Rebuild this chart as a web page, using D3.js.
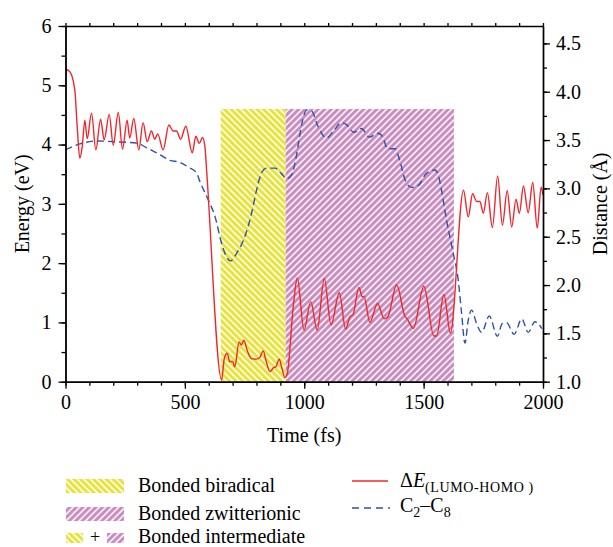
<!DOCTYPE html>
<html>
<head>
<meta charset="utf-8">
<script src="https://cdn.jsdelivr.net/npm/d3@7"></script>
<style>
  body { margin: 0; background: #fff; }
  svg { display: block; }
  svg text { font-family: "Liberation Serif", "DejaVu Serif", serif; }
</style>
</head>
<body>
<svg id="chart" width="613" height="547"></svg>
<script>
// LUMO-HOMO gap (eV) vs time (fs)
const gapTime = [0, 18, 39, 49, 60, 70, 81, 91, 109, 127, 147, 162, 183, 200, 221, 239, 258, 269, 286, 307,
  325, 342, 360, 374, 386, 409, 433, 451, 465, 482, 504, 531, 546, 560, 574, 584, 591, 654, 665, 677,
  688, 700, 709, 727, 737, 747, 761, 779, 800, 814, 828, 839, 856, 873, 881, 895, 905, 919, 929, 954,
  971, 999, 1027, 1054, 1084, 1112, 1147, 1173, 1191, 1205, 1229, 1243, 1250, 1275, 1307, 1335, 1350, 1387, 1422, 1431,
  1457, 1501, 1543, 1554, 1585, 1612, 1667, 1687, 1705, 1722, 1736, 1750, 1767, 1788, 1810, 1830, 1850, 1869, 1887, 1901,
  1918, 1938, 1957, 1976, 1992, 2000];
const gapEnergy = [5.27, 5.23, 4.92, 4.30, 3.77, 3.96, 4.41, 4.10, 4.53, 3.91, 4.43, 4.08, 4.51, 3.99, 4.54, 3.92, 4.41, 4.11, 4.44, 3.91,
  4.37, 4.05, 4.23, 4.09, 4.18, 3.91, 4.33, 4.23, 4.23, 4.09, 4.31, 3.86, 4.14, 4.02, 4.12, 3.96, 3.57, 0.03, 0.39, 0.48,
  0.34, 0.34, 0.25, 0.67, 0.62, 0.70, 0.53, 0.39, 0.38, 0.41, 0.52, 0.37, 0.17, 0.24, 0.25, 0.38, 0.25, 0.07, 0.14, 1.27,
  1.75, 0.87, 1.35, 0.87, 1.74, 0.96, 1.50, 0.89, 1.09, 1.14, 1.59, 1.43, 1.44, 1.00, 1.32, 1.06, 1.09, 1.63, 1.10, 1.06,
  0.90, 1.61, 0.77, 0.77, 1.47, 0.82, 3.23, 2.78, 3.17, 3.04, 3.04, 2.84, 3.19, 2.60, 3.47, 2.64, 3.22, 2.61, 3.08, 2.84,
  3.30, 2.85, 3.36, 2.59, 3.28, 3.15];

// C2-C8 distance (Å) vs time (fs)
const bondTime = [0, 60, 130, 228, 297, 340, 395, 437, 479, 514, 549, 563, 598, 626, 654, 675, 691, 717, 751, 779,
  800, 821, 842, 877, 905, 926, 947, 968, 989, 1010, 1031, 1058, 1093, 1121, 1157, 1177, 1208, 1240, 1272, 1310,
  1331, 1348, 1380, 1401, 1422, 1450, 1478, 1510, 1547, 1561, 1575, 1596, 1624, 1645, 1659, 1673, 1687, 1701, 1722, 1743,
  1775, 1809, 1829, 1848, 1879, 1911, 1938, 1966, 1995];
const bondDist = [3.40, 3.46, 3.49, 3.48, 3.47, 3.42, 3.35, 3.29, 3.27, 3.22, 3.16, 3.07, 2.88, 2.71, 2.43, 2.29, 2.25, 2.33, 2.50, 2.74,
  2.98, 3.16, 3.21, 3.21, 3.15, 3.10, 3.14, 3.35, 3.66, 3.81, 3.80, 3.64, 3.52, 3.59, 3.68, 3.66, 3.58, 3.62, 3.53, 3.57,
  3.52, 3.41, 3.41, 3.28, 3.09, 3.01, 3.03, 3.15, 3.19, 3.14, 2.98, 2.67, 2.33, 2.05, 1.71, 1.40, 1.64, 1.74, 1.60, 1.51,
  1.68, 1.47, 1.60, 1.61, 1.49, 1.65, 1.51, 1.62, 1.55];

// shaded phases
const phaseNames = ["biradical", "zwitterionic"];
const phaseStart = [650, 922];
const phaseEnd = [922, 1627];
const phaseTop = 4.6;

const xTicks = [0, 500, 1000, 1500, 2000];
const eTicks = [0, 1, 2, 3, 4, 5, 6];
const dTicks = [1.0, 1.5, 2.0, 2.5, 3.0, 3.5, 4.0, 4.5];

const svg = d3.select("#chart");
const L = 65.5, R = 543, T = 26, B = 381.7;
const serif = "Liberation Serif, DejaVu Serif, serif";

const x = d3.scaleLinear().domain([0, 2000]).range([L, R]);
const yE = d3.scaleLinear().domain([0, 6]).range([B, T]);
const yD = d3.scaleLinear().domain([1, 4.68]).range([B, T]);

// hatch patterns
const defs = svg.append("defs");
function hatch(id, bg, angle) {
  const p = defs.append("pattern")
    .attr("id", id)
    .attr("patternUnits", "userSpaceOnUse")
    .attr("width", 4.6).attr("height", 4.6)
    .attr("patternTransform", `rotate(${angle})`);
  p.append("rect").attr("width", 4.6).attr("height", 4.6).attr("fill", bg);
  p.append("line").attr("x1", 1).attr("x2", 1).attr("y1", -1).attr("y2", 6)
    .attr("stroke", "#fff").attr("stroke-width", 1.5);
}
hatch("hatch-biradical", "#e6e33c", -45);
hatch("hatch-zwitterionic", "#c98cbf", 45);

defs.append("clipPath").attr("id", "plot-clip")
  .append("rect").attr("x", L).attr("y", T).attr("width", R - L).attr("height", B - T);

// phase regions
svg.append("g").selectAll("rect")
  .data(phaseNames)
  .join("rect")
  .attr("x", (d, i) => x(phaseStart[i]))
  .attr("width", (d, i) => x(phaseEnd[i]) - x(phaseStart[i]))
  .attr("y", yE(phaseTop))
  .attr("height", yE(0) - yE(phaseTop))
  .attr("fill", d => `url(#hatch-${d})`);

// lines
const plot = svg.append("g").attr("clip-path", "url(#plot-clip)");

const bondLine = d3.line()
  .x((d, i) => x(bondTime[i]))
  .y(d => yD(d))
  .curve(d3.curveMonotoneX);

const gapLine = d3.line()
  .x((d, i) => x(gapTime[i]))
  .y(d => yE(d))
  .curve(d3.curveMonotoneX);

plot.append("path")
  .attr("d", bondLine(bondDist))
  .attr("fill", "none")
  .attr("stroke", "#3050a8")
  .attr("stroke-width", 1.4)
  .attr("stroke-dasharray", "7,4");

plot.append("path")
  .attr("d", gapLine(gapEnergy))
  .attr("fill", "none")
  .attr("stroke", "#f0262c")
  .attr("stroke-width", 1.4);

// axes
function styleAxis(g) {
  g.attr("font-family", serif).attr("font-size", 20);
  g.selectAll(".domain").attr("stroke", "#000").attr("stroke-width", 1.4);
  g.selectAll(".tick line").attr("stroke", "#000").attr("stroke-width", 1.3);
  g.selectAll(".tick text").attr("fill", "#000");
}

// bottom
svg.append("g").attr("transform", `translate(0,${B})`)
  .call(d3.axisBottom(x).ticks(20).tickSize(4).tickFormat("").tickSizeOuter(0))
  .call(styleAxis);
svg.append("g").attr("transform", `translate(0,${B})`)
  .call(d3.axisBottom(x).tickValues(xTicks).tickSize(7).tickPadding(6).tickSizeOuter(0).tickFormat(d3.format("d")))
  .call(styleAxis);

// top
svg.append("g").attr("transform", `translate(0,${T})`)
  .call(d3.axisTop(x).ticks(20).tickSize(3).tickFormat("").tickSizeOuter(0))
  .call(styleAxis);

// left
svg.append("g").attr("transform", `translate(${L},0)`)
  .call(d3.axisLeft(yE).ticks(12).tickSize(4).tickFormat("").tickSizeOuter(0))
  .call(styleAxis);
svg.append("g").attr("transform", `translate(${L},0)`)
  .call(d3.axisLeft(yE).tickValues(eTicks).tickSize(7).tickPadding(7).tickSizeOuter(0).tickFormat(d3.format("d")))
  .call(styleAxis);

// right
svg.append("g").attr("transform", `translate(${R},0)`)
  .call(d3.axisRight(yD).tickValues(d3.range(1, 4.7, 0.25)).tickSize(4).tickFormat("").tickSizeOuter(0))
  .call(styleAxis);
svg.append("g").attr("transform", `translate(${R},0)`)
  .call(d3.axisRight(yD).tickValues(dTicks).tickSize(7).tickPadding(6).tickSizeOuter(0).tickFormat(d3.format(".1f")))
  .call(styleAxis);

// axis titles
const titleFont = "20px";
svg.append("text")
  .attr("transform", `translate(29,${(T + B) / 2}) rotate(-90)`)
  .attr("text-anchor", "middle")
  .style("font-size", titleFont)
  .text("Energy (eV)");

svg.append("text")
  .attr("transform", `translate(607,${(T + B) / 2}) rotate(-90)`)
  .attr("text-anchor", "middle")
  .style("font-size", titleFont)
  .text("Distance (Å)");

svg.append("text")
  .attr("x", (L + R) / 2).attr("y", 442)
  .attr("text-anchor", "middle")
  .style("font-size", titleFont)
  .text("Time (fs)");

// legend - phases
const leg = svg.append("g");
leg.append("rect").attr("x", 66).attr("y", 479).attr("width", 58).attr("height", 14)
  .attr("fill", "url(#hatch-biradical)");
leg.append("text").attr("x", 138).attr("y", 492).style("font-size", titleFont).text("Bonded biradical");

leg.append("rect").attr("x", 66).attr("y", 507).attr("width", 58).attr("height", 14)
  .attr("fill", "url(#hatch-zwitterionic)");
leg.append("text").attr("x", 138).attr("y", 520).style("font-size", titleFont).text("Bonded zwitterionic");

leg.append("rect").attr("x", 66).attr("y", 533).attr("width", 17).attr("height", 10)
  .attr("fill", "url(#hatch-biradical)");
leg.append("text").attr("x", 95).attr("y", 543).attr("text-anchor", "middle").style("font-size", "18px").text("+");
leg.append("rect").attr("x", 107).attr("y", 533).attr("width", 17).attr("height", 10)
  .attr("fill", "url(#hatch-zwitterionic)");
leg.append("text").attr("x", 138).attr("y", 543).style("font-size", titleFont).text("Bonded intermediate");

// legend - lines
leg.append("line").attr("x1", 352).attr("x2", 388).attr("y1", 481).attr("y2", 481)
  .attr("stroke", "#f0262c").attr("stroke-width", 1.4);
const dE = leg.append("text").attr("x", 400).attr("y", 487).style("font-size", titleFont);
dE.append("tspan").text("Δ");
dE.append("tspan").style("font-style", "italic").text("E");
dE.append("tspan").attr("dy", 5).style("font-size", "14px").attr("letter-spacing", "0.6").text("(LUMO-HOMO )");

leg.append("line").attr("x1", 352).attr("x2", 390).attr("y1", 508).attr("y2", 508)
  .attr("stroke", "#3050a8").attr("stroke-width", 1.4).attr("stroke-dasharray", "7,5");
const cc = leg.append("text").attr("x", 400).attr("y", 512).style("font-size", titleFont);
cc.append("tspan").text("C");
cc.append("tspan").attr("dy", 5).style("font-size", "14px").text("2");
cc.append("tspan").attr("dy", -5).text("–C");
cc.append("tspan").attr("dy", 5).style("font-size", "14px").text("8");
</script>
</body>
</html>
